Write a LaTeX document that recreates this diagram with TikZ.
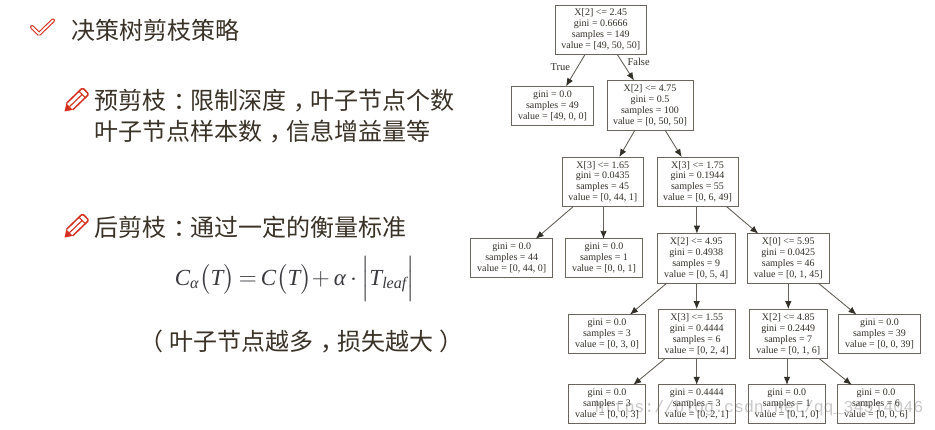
\documentclass[tikz,border=0pt]{standalone}
\usepackage{amsmath}
\usepackage{fontspec}
\setmainfont{Liberation Serif}
\newfontfamily\cjkfont{Noto Sans CJK SC}
\newfontfamily\markfont{Liberation Mono}
\usepackage{tikz}
\usetikzlibrary{arrows.meta, positioning}
\usepackage{xcolor}
\definecolor{TreeInk}{HTML}{33302A}
\definecolor{BoxLine}{HTML}{6A665E}
\definecolor{EdgeLine}{HTML}{66625A}
\definecolor{SlideInk}{HTML}{3A3226}
\definecolor{FormulaInk}{HTML}{3A3A40}
\definecolor{IconRed}{HTML}{D5301F}
\definecolor{MarkGray}{HTML}{C9C9C9}
% full-width marks sit in the middle of their em box
\newcommand{\midmark}[1]{\kern0.3em#1\kern-0.3em}
\tikzset{%
  treebox/.style={%
    rectangle,
    draw=BoxLine,
    line width=1pt,
    inner sep=0pt,
    outer sep=0pt,
    text=TreeInk,
    font={\fontsize{10}{11}\selectfont},
    align=center%
  },
  split/.style={treebox, minimum height=49.5},
  leaf/.style={treebox, minimum height=39},
  edgeline/.style={%
    color=EdgeLine,
    line width=0.9pt,
    -{Latex[length=8pt, width=6.5pt, color=TreeInk]}%
  },
  edgelabel/.style={%
    text=TreeInk,
    inner sep=0pt,
    font={\fontsize{10.5}{11}\selectfont},
  },
  slidetext/.style={%
    anchor=west,
    inner sep=0pt,
    text=SlideInk,
    align=left,
    font={\cjkfont\fontsize{24}{31}\selectfont},
  },
  pencil/.pic={%
    \fill [IconRed] (0, 0) -- (7, 4.5) -- (7, -4.5) -- cycle;
    \draw [IconRed, line width=1.5pt, line join=round, rounded corners=1.5]
      (7, 4.5) -- (29.5, 4.5) -- (29.5, -4.5) -- (7, -4.5);
    \draw [IconRed, line width=1.1pt]
      (7, 0) -- (24.5, 0)
      (24.5, 4.5) -- (24.5, -4.5);
  }
}

\begin{document}
\begin{tikzpicture}[x=1pt, y=1pt]
    \useasboundingbox [fill=white] (0, 0) rectangle (935, 429);

    % left column
    \draw [IconRed, line width=1.1pt, double=white, double distance=1.8pt, line join=round, line cap=round]
      (32, 402) -- (39, 395) -- (53, 408.5);
    \node [slidetext] (Title) at (71.5, 399) {决策树剪枝策略};
    \pic [rotate=44] at (64.5, 317.5) {pencil};
    \node [slidetext] (Pre) at (94, 312.5)
      {预剪枝\midmark{：}限制深度\midmark{，}叶子节点个数\\叶子节点样本数\midmark{，}信息增益量等};
    \pic [rotate=44] at (64.5, 191.5) {pencil};
    \node [slidetext] (Post) at (94, 202) {后剪枝\midmark{：}通过一定的衡量标准};
    \node [inner sep=0pt, text=FormulaInk, font={\fontsize{23}{26}\selectfont}] (Formula) at (295, 150)
      {$\textit{C}_{\textit{α}}\bigl(\textit{T}\bigr){\,=\,}\textit{C}\bigl(\textit{T}\bigr){+}\,\textit{α}\,{\cdot}\left|\rule[-11pt]{0pt}{37pt}\textit{T}_{\textit{leaf}}\right|$};
    \node [slidetext] (Note) at (145, 87) {\kern-0.25em（\kern0.25em 叶子节点越多\midmark{，}损失越大\kern0.25em）};

    % watermark
    \node [inner sep=0pt, text=MarkGray, font={\markfont\fontsize{16.6}{18}\selectfont}] (Mark) at (759, 21)
      {https://blog.csdn.net/qq\_34514046};

    % tree
    \node [split, minimum width=91] (Root) at (600.8, 399.2)
      {X[2] <= 2.45\\gini = 0.6666\\samples = 149\\value = [49, 50, 50]};
    \node [leaf, minimum width=82, below=31.7 of Root, xshift=-48.3] (LeafA)
      {gini = 0.0\\samples = 49\\value = [49, 0, 0]};
    \node [split, minimum width=86, below=26 of Root, xshift=49.2] (SplitA)
      {X[2] <= 4.75\\gini = 0.5\\samples = 100\\value = [0, 50, 50]};
    \node [split, minimum width=81.5, below=27 of SplitA, xshift=-47.2] (SplitB)
      {X[3] <= 1.65\\gini = 0.0435\\samples = 45\\value = [0, 44, 1]};
    \node [split, minimum width=81, below=27 of SplitA, xshift=47.5] (SplitC)
      {X[3] <= 1.75\\gini = 0.1944\\samples = 55\\value = [0, 6, 49]};
    \node [leaf, minimum width=82, below=32.3 of SplitB, xshift=-91.1] (LeafB)
      {gini = 0.0\\samples = 44\\value = [0, 44, 0]};
    \node [leaf, minimum width=76.6, below=32.3 of SplitB, xshift=1.2] (LeafC)
      {gini = 0.0\\samples = 1\\value = [0, 0, 1]};
    \node [split, minimum width=77.7, below=27.1 of SplitC, xshift=-1.3] (SplitD)
      {X[2] <= 4.95\\gini = 0.4938\\samples = 9\\value = [0, 5, 4]};
    \node [split, minimum width=82, below=27.1 of SplitC, xshift=90.8] (SplitE)
      {X[0] <= 5.95\\gini = 0.0425\\samples = 46\\value = [0, 1, 45]};
    \node [leaf, minimum width=77.4, below=31.45 of SplitD, xshift=-89.2] (LeafD)
      {gini = 0.0\\samples = 3\\value = [0, 3, 0]};
    \node [split, minimum width=76.7, below=26 of SplitD, xshift=0.5] (SplitF)
      {X[3] <= 1.55\\gini = 0.4444\\samples = 6\\value = [0, 2, 4]};
    \node [split, minimum width=78, below=26 of SplitE] (SplitG)
      {X[2] <= 4.85\\gini = 0.2449\\samples = 7\\value = [0, 1, 6]};
    \node [leaf, minimum width=82.4, below=31.45 of SplitE, xshift=91.2] (LeafE)
      {gini = 0.0\\samples = 39\\value = [0, 0, 39]};
    \node [leaf, minimum width=77.4, below=26.2 of SplitF, xshift=-89.7] (LeafF)
      {gini = 0.0\\samples = 3\\value = [0, 0, 3]};
    \node [leaf, minimum width=76.7, below=26.2 of SplitF] (LeafG)
      {gini = 0.4444\\samples = 3\\value = [0, 2, 1]};
    \node [leaf, minimum width=76.7, below=26.2 of SplitG, xshift=-1.6] (LeafH)
      {gini = 0.0\\samples = 1\\value = [0, 1, 0]};
    \node [leaf, minimum width=76.6, below=26.2 of SplitG, xshift=87.7] (LeafI)
      {gini = 0.0\\samples = 6\\value = [0, 0, 6]};

    \draw [edgeline]
      ([xshift=-15.8]Root.south) -- ([xshift=13.5]LeafA.north)
      node [midway, left=5, yshift=3, edgelabel] (TrueLabel) {True};
    \draw [edgeline]
      ([xshift=16.5]Root.south) -- ([xshift=-16]SplitA.north)
      node [midway, right=1.4, yshift=5.5, edgelabel] (FalseLabel) {False};
    \draw [edgeline]
      ([xshift=-15]SplitA.south) -- ([xshift=16.5]SplitB.north);
    \draw [edgeline]
      ([xshift=15]SplitA.south) -- ([xshift=-15.8]SplitC.north);
    \draw [edgeline]
      ([xshift=-29.5]SplitB.south) -- ([xshift=24]LeafB.north);
    \draw [edgeline]
      ([xshift=0.7]SplitB.south) -- ([xshift=-0.5]LeafC.north);
    \draw [edgeline]
      ([xshift=-0.6]SplitC.south) -- ([xshift=0.7]SplitD.north);
    \draw [edgeline]
      ([xshift=29]SplitC.south) -- ([xshift=-30]SplitE.north);
    \draw [edgeline]
      ([xshift=-29.5]SplitD.south) -- ([xshift=23]LeafD.north);
    \draw [edgeline]
      ([xshift=0.5]SplitD.south) -- (SplitF.north);
    \draw [edgeline]
      (SplitE.south) -- (SplitG.north);
    \draw [edgeline]
      ([xshift=30]SplitE.south) -- ([xshift=-23]LeafE.north);
    \draw [edgeline]
      ([xshift=-31.7]SplitF.south) -- ([xshift=26.3]LeafF.north);
    \draw [edgeline]
      (SplitF.south) -- (LeafG.north);
    \draw [edgeline]
      ([xshift=-1.3]SplitG.south) -- ([xshift=0.3]LeafH.north);
    \draw [edgeline]
      ([xshift=31]SplitG.south) -- ([xshift=-24.3]LeafI.north);
\end{tikzpicture}
\end{document}
